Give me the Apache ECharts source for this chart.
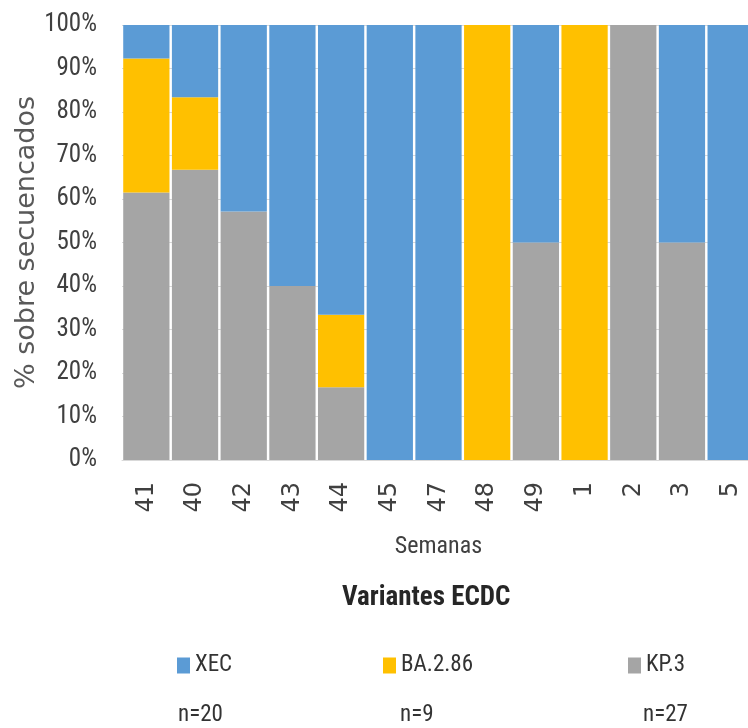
<!DOCTYPE html>
<html>
<head>
<meta charset="utf-8">
<script src="https://cdn.jsdelivr.net/npm/echarts@6/dist/echarts.min.js"></script>
<style>html,body{margin:0;padding:0;background:#fff}#c{width:748px;height:728px}</style>
</head>
<body>
<div id="c"></div>
<script>
var weeks = ['41','40','42','43','44','45','47','48','49','1','2','3','5'];
var kp3   = [61.5, 66.7, 57.1, 40, 16.7, 0, 0, 0, 50, 0, 100, 50, 0];
var ba286 = [30.8, 16.7, 0, 0, 16.7, 0, 0, 100, 0, 100, 0, 0, 0];
var xec   = [7.7, 16.6, 42.9, 60, 66.6, 100, 100, 0, 50, 0, 0, 50, 100];
var seriesNames = ['XEC', 'BA.2.86', 'KP.3'];
var counts = ['n=20', 'n=9', 'n=27'];

var narrow = '"Roboto Condensed", "Liberation Sans", sans-serif';
var wide = '"DejaVu Sans", sans-serif';
var colors = {'XEC':'#5B9BD5','BA.2.86':'#FFC000','KP.3':'#A5A5A5'};
var legendLeft = [177, 383, 628];
var countLeft = [178, 400, 643];

var chart = echarts.init(document.getElementById('c'));
var legends = seriesNames.map(function(n, i){
  return {
    data:[n], left: legendLeft[i], top: 654, padding:0,
    itemWidth:13, itemHeight:16, icon:'rect', selectedMode:false,
    textStyle:{fontFamily:narrow, fontSize:23, color:'#333333'}
  };
});
var graphics = counts.map(function(t, i){
  return {type:'text', left: countLeft[i], top: 704,
    style:{text:t, font:'23px ' + narrow, fill:'#333333'}};
});
function mk(name, data){
  return {name:name, type:'bar', stack:'s', data:data, barCategoryGap:'5%',
    itemStyle:{color:colors[name]}};
}
chart.setOption({
  animation:false,
  title:{text:'Variantes ECDC', left:342, top:585, padding:0,
    textStyle:{fontFamily:narrow, fontSize:27, fontWeight:'bold', color:'#262626'}},
  legend: legends,
  graphic: graphics,
  grid:{left:122, top:25, width:633, height:435, containLabel:false, outerBoundsMode:'none'},
  xAxis:{type:'category', data:weeks, name:'Semanas', nameLocation:'middle', nameGap:75,
    nameMoveOverlap:false,
    nameTextStyle:{fontFamily:narrow, fontSize:24, color:'#404040'},
    axisLine:{lineStyle:{color:'#d9d9d9'}}, axisTick:{show:false},
    axisLabel:{rotate:90, margin:22, fontFamily:wide, fontSize:24, color:'#404040'}},
  yAxis:{type:'value', min:0, max:100, interval:10,
    name:'% sobre secuencados', nameLocation:'middle', nameRotate:90, nameGap:82,
    nameMoveOverlap:false,
    nameTextStyle:{fontFamily:wide, fontSize:27, color:'#595959'},
    axisLine:{show:false}, axisTick:{show:false},
    splitLine:{lineStyle:{color:'#d9d9d9'}},
    axisLabel:{margin:25, fontFamily:narrow, fontSize:25, color:'#404040',
      formatter:function(v){return v + '%';}}},
  series:[mk('KP.3', kp3), mk('BA.2.86', ba286), mk('XEC', xec)]
});
</script>
</body>
</html>
